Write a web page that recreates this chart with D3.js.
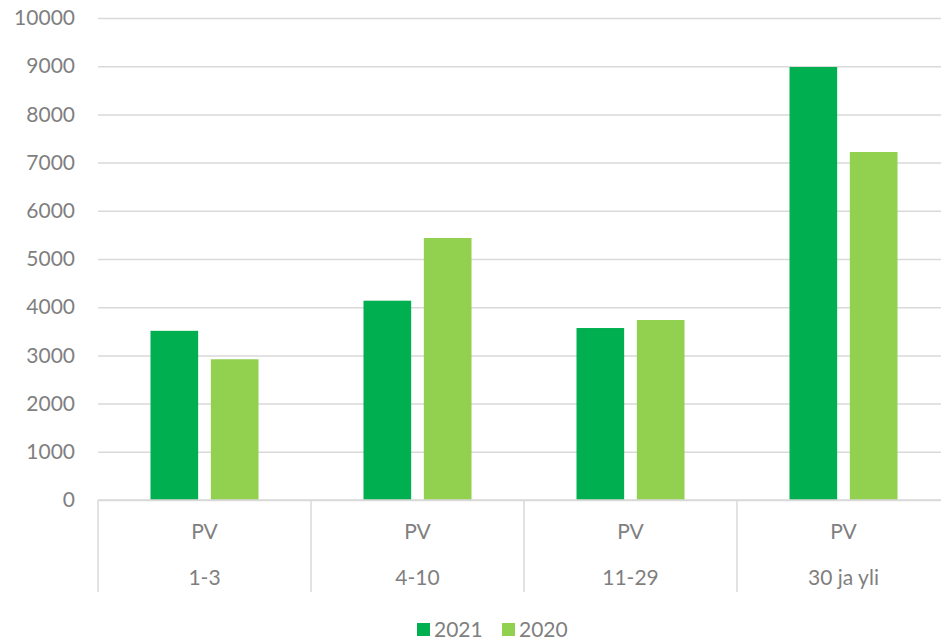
<!DOCTYPE html>
<html>
<head>
<meta charset="utf-8">
<script src="https://cdn.jsdelivr.net/npm/d3@7"></script>
<style>
  body { margin: 0; background: #fff; }
  svg text { font-family: Lato, "Open Sans", sans-serif; fill: #7f7f7f; }
</style>
</head>
<body>
<svg id="chart" width="941" height="640"></svg>
<script>
const categories = ["1-3", "4-10", "11-29", "30 ja yli"];
const topLabel = "PV";
const seriesNames = ["2021", "2020"];
const values2021 = [3510, 4135, 3568, 8983];
const values2020 = [2920, 5436, 3734, 7220];
const yTicks = [0, 1000, 2000, 3000, 4000, 5000, 6000, 7000, 8000, 9000, 10000];
const colors = ["#00b050", "#92d050"];

(function () {
const seriesValues = [values2021, values2020];
const svg = d3.select("#chart");
const plotLeft = 98, plotRight = 950, plotTop = 18, plotBottom = 500;

const x0 = d3.scaleBand().domain(categories).range([plotLeft, plotRight]).padding(0);
const x1 = d3.scaleBand().domain(seriesNames).range([52.5, 160.5]).paddingInner(0.21).paddingOuter(0);
const y = d3.scaleLinear().domain([0, 10000]).range([plotBottom, plotTop]);

// gridlines + y labels
const yAxis = d3.axisLeft(y).tickValues(yTicks).tickSize(-(plotRight - plotLeft)).tickPadding(23).tickFormat(d3.format("d"));
const gy = svg.append("g").attr("transform", `translate(${plotLeft},0)`).call(yAxis);
gy.select(".domain").remove();
gy.selectAll(".tick line").attr("stroke", "#d9d9d9").attr("stroke-width", 1.5);
gy.selectAll(".tick text").attr("font-size", 21).attr("fill", "#7f7f7f").attr("font-family", "Lato, 'Open Sans', sans-serif");

// bars
categories.forEach((c, i) => {
  const g = svg.append("g").attr("transform", `translate(${x0(c)},0)`);
  seriesNames.forEach((s, j) => {
    const v = seriesValues[j][i];
    g.append("rect")
      .attr("x", x1(s))
      .attr("y", y(v))
      .attr("width", x1.bandwidth())
      .attr("height", y(0) - y(v))
      .attr("fill", colors[j]);
  });
});

// bottom axis: baseline and category separators
svg.append("line").attr("x1", plotLeft).attr("x2", plotRight).attr("y1", plotBottom).attr("y2", plotBottom)
  .attr("stroke", "#d9d9d9").attr("stroke-width", 1.5);
const seps = categories.map(c => x0(c)).concat([plotRight]);
svg.selectAll(".sep").data(seps).enter().append("line")
  .attr("x1", d => d).attr("x2", d => d).attr("y1", plotBottom).attr("y2", 592)
  .attr("stroke", "#d9d9d9").attr("stroke-width", 1.5);

categories.forEach(c => {
  const cx = x0(c) + x0.bandwidth() / 2;
  svg.append("text").attr("x", cx).attr("y", 539).attr("text-anchor", "middle").attr("font-size", 21).text(topLabel);
  svg.append("text").attr("x", cx).attr("y", 585).attr("text-anchor", "middle").attr("font-size", 21).text(c);
});

// legend
const legendX = [417, 502];
seriesNames.forEach((s, j) => {
  svg.append("rect").attr("x", legendX[j]).attr("y", 623).attr("width", 13).attr("height", 13).attr("fill", colors[j]);
  svg.append("text").attr("x", legendX[j] + 17).attr("y", 637).attr("font-size", 21).text(s);
});
})();
</script>
</body>
</html>
